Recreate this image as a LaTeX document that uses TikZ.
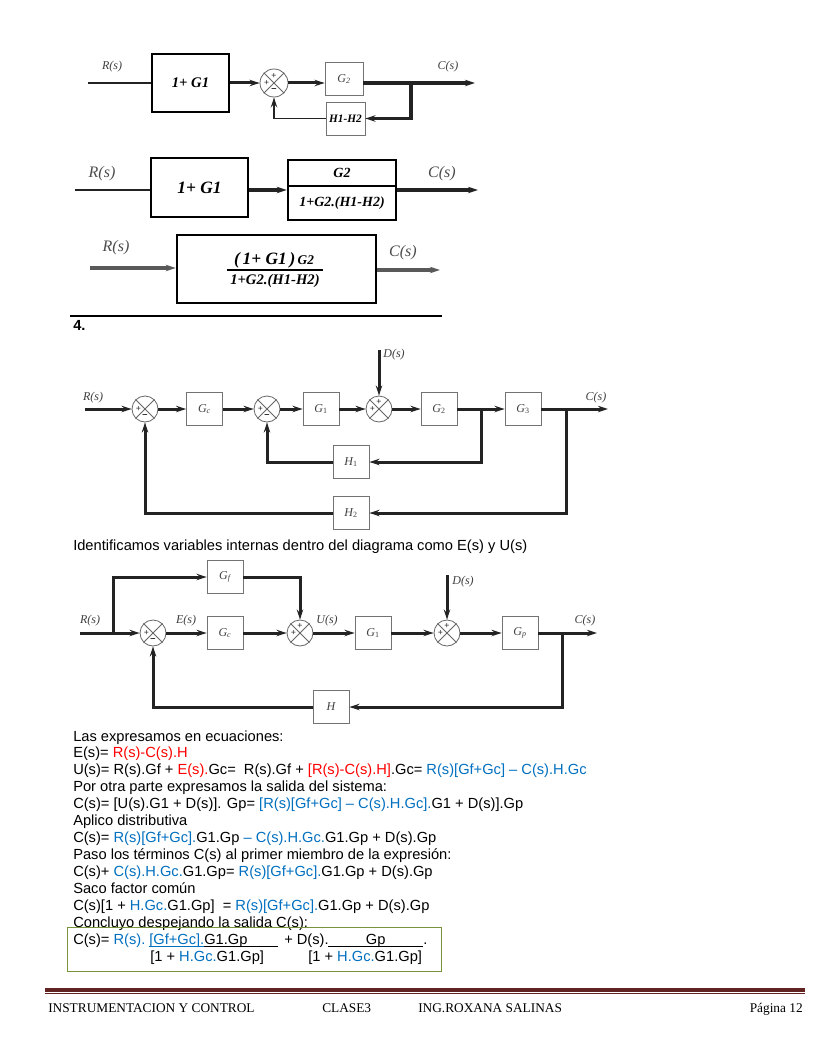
\documentclass[tikz,border=0pt]{standalone}
\usepackage{fontspec}
\usepackage{graphicx}
\setmainfont{Liberation Sans}
\newfontfamily\tms{Liberation Serif}
\newfontfamily\ftr{Liberation Serif}
\usetikzlibrary{arrows.meta}
\definecolor{rd}{RGB}{255,0,0}
\definecolor{bl}{RGB}{0,112,192}
\definecolor{grn}{RGB}{119,147,60}
\definecolor{mar}{RGB}{98,36,35}
\definecolor{ink}{RGB}{35,35,35}
\newcommand\sumX[1]{\draw[black!60,line width=0.6pt] (#1.north east) -- (#1.south west) (#1.north west) -- (#1.south east);}
\tikzset{
 sig/.style={draw=ink, line width=2.25pt},
 thinsig/.style={draw=ink, line width=1.1pt},
 arr/.style={-{Stealth[length=7.5pt,width=4.8pt]}},
 blk/.style={draw=black!55, line width=0.6pt, inner sep=0pt, minimum width=27pt, minimum height=25pt, font=\tms\itshape\fontsize{9}{10}\selectfont, text=black!75},
 sumj/.style={circle, draw=black!60, line width=0.6pt, minimum size=19.5pt, inner sep=0pt},
 lbl/.style={inner sep=0pt, font=\tms\itshape\fontsize{9}{10}\selectfont, text=black!75},
 biglbl/.style={inner sep=0pt, font=\tms\itshape\fontsize{12}{13}\selectfont, text=black!70},
 sgn/.style={inner sep=0pt, font=\fontsize{6.5}{6.5}\selectfont, text=black!85},
 txt/.style={anchor=base west, inner sep=0pt, font=\fontsize{11}{13}\selectfont},
 bigblk/.style={draw=black, line width=1.8pt, inner sep=0pt},
 ftx/.style={anchor=base west, inner sep=0pt, font=\ftr\fontsize{10}{12}\selectfont}
}
\begin{document}
\begin{tikzpicture}[x=0.75pt,y=-0.75pt]
\useasboundingbox (0,0) rectangle (816,1056);
\fill[white] (0,0) rectangle (816,1056);

% ---------------- Diagram 1
\coordinate (r1) at (88,83);
\node[bigblk, line width=1.5pt, minimum width=57.75pt, minimum height=42.75pt, font=\tms\bfseries\itshape\fontsize{11}{12}\selectfont] (a1) at (190.5,83) {1+ G1};
\node[sumj, minimum size=21pt] (s1) at (274,83) {};
\sumX{s1}
\node[blk, minimum width=28.5pt, minimum height=24.75pt] (g12) at (344,79) {G\textsubscript{2}};
\node[blk, minimum width=29.25pt, minimum height=24.75pt, font=\tms\bfseries\itshape\fontsize{8.5}{9}\selectfont, text=black] (h12) at (345.5,118.5) {H1-H2};
\coordinate (c1) at (475,83);
\coordinate (b1) at (411,83);
\draw[thinsig, line width=1.3pt] (r1) -- (a1);
\draw[sig, arr] (a1) -- (s1);
\draw[sig, arr] (s1) -- (s1 -| g12.west);
\draw[sig, line width=2.8pt, arr] (s1 -| g12.east) -- (c1);
\draw[sig, line width=2.8pt, arr] (b1) |- (h12);
\draw[thinsig, arr] (h12) -| (s1);
\node[sgn] (p11) at ([yshift=5.5pt]s1.center) {+};
\node[sgn] (p12) at ([xshift=-5.5pt]s1.center) {+};
\node[sgn, font=\bfseries\fontsize{7}{7}\selectfont] (m11) at ([yshift=-5.5pt]s1.center) {–};
\node[lbl] (lr1) at (112,67) {R(s)};
\node[lbl] (lc1) at (448,67) {C(s)};

% ---------------- Diagram 2
\coordinate (r2) at (75,190);
\node[bigblk, minimum width=72.75pt, minimum height=44.25pt, font=\tms\bfseries\itshape\fontsize{13}{14}\selectfont] (a2) at (199.5,187.5) {1+ G1};
\node[bigblk, minimum width=81pt, minimum height=19.5pt, font=\tms\bfseries\itshape\fontsize{10.5}{11}\selectfont] (n2) at (342,173) {G2};
\node[bigblk, minimum width=81pt, minimum height=25.5pt, font=\tms\bfseries\itshape\fontsize{10.5}{11}\selectfont] (d2) at (342,203) {1+G2.(H1-H2)};
\coordinate (c2) at (478,190);
\draw[thinsig, line width=1.4pt] (r2) -- (a2.west |- r2);
\draw[sig, line width=2.6pt, arr] (a2.east |- r2) -- (d2.west |- r2);
\draw[sig, line width=3pt, arr] (d2.east |- r2) -- (c2);
\node[biglbl] (lr2) at (102,174) {R(s)};
\node[biglbl] (lc2) at (442,174) {C(s)};

% ---------------- Diagram 3
\coordinate (r3) at (90,268);
\node[bigblk, minimum width=149.25pt, minimum height=51pt] (a3) at (276.5,269) {};
\node[inner sep=0pt, font=\tms\bfseries\itshape] (num3) at (274,260) {{\fontsize{13}{14}\selectfont (\,1+ G1\,)}\,{\fontsize{10}{11}\selectfont G2}};
\coordinate (f3a) at (227,270);
\coordinate (f3b) at (323,270);
\draw[line width=1.2pt] (f3a) -- (f3b);
\node[inner sep=0pt, font=\tms\bfseries\itshape\fontsize{11}{12}\selectfont] (den3) at (275,280.5) {1+G2.(H1-H2)};
\coordinate (c3) at (440,270);
\draw[sig, line width=2.4pt, draw=black!65, arr] (r3) -- (a3.west |- r3);
\draw[sig, line width=2.6pt, draw=black!65, arr] (a3.east |- c3) -- (c3);
\node[biglbl] (lr3) at (116,248) {R(s)};
\node[biglbl] (lc3) at (403,253) {C(s)};

\coordinate (sl1) at (70,316);
\coordinate (sl2) at (442,316);
\draw[line width=0.9pt] (sl1) -- (sl2);
\node[txt, font=\bfseries\fontsize{11}{13}\selectfont] (n4) at (73,330) {4.};

% ---------------- Diagram 4
\coordinate (r4) at (85,409);
\coordinate (d4) at (379,350);
\coordinate (b41) at (481,409);
\coordinate (b42) at (566,409);
\coordinate (c4) at (608,409);
\node[sumj] (s41) at (145,409) {};
\node[blk] (gc4) at (204.5,409) {G\textsubscript{c}};
\node[sumj] (s42) at (267,409) {};
\node[blk] (g14) at (321,409) {G\textsubscript{\upshape 1}};
\node[sumj] (s43) at (379,409) {};
\node[blk] (g24) at (439,409) {G\textsubscript{\upshape 2}};
\node[blk] (g34) at (523,409) {G\textsubscript{\upshape 3}};
\node[blk] (h14) at (351,462) {H\textsubscript{\upshape 1}};
\node[blk] (h24) at (351,513) {H\textsubscript{\upshape 2}};
\sumX{s41}\sumX{s42}\sumX{s43}
\draw[sig,arr] (r4) -- (s41);
\draw[sig,arr] (s41) -- (gc4);
\draw[sig,arr] (gc4) -- (s42);
\draw[sig,arr] (s42) -- (g14);
\draw[sig,arr] (g14) -- (s43);
\draw[sig,arr] (d4) -- (s43);
\draw[sig,arr] (s43) -- (g24);
\draw[sig,arr] (g24) -- (g34);
\draw[sig,arr] (b41) |- (h14);
\draw[sig,arr] (h14) -| (s42);
\draw[sig,arr] (g34) -- (c4);
\draw[sig,arr] (b42) |- (h24);
\draw[sig,arr] (h24) -| (s41);
\node[sgn] (p41) at ([xshift=-5pt]s41.center) {+};
\node[sgn, font=\bfseries\fontsize{7}{7}\selectfont] (m41) at ([yshift=-5pt]s41.center) {–};
\node[sgn] (p42) at ([xshift=-5pt]s42.center) {+};
\node[sgn, font=\bfseries\fontsize{7}{7}\selectfont] (m42) at ([yshift=-5pt]s42.center) {–};
\node[sgn] (p43) at ([yshift=5pt]s43.center) {+};
\node[sgn] (p44) at ([xshift=-5pt]s43.center) {+};
\node[lbl] (lr4) at (93,398) {R(s)};
\node[lbl] (ld4) at (394,355) {D(s)};
\node[lbl] (lc4) at (596,398) {C(s)};

\node[txt] (t0) at (73,550) {Identificamos variables internas dentro del diagrama como E(s) y U(s)};

% ---------------- Diagram 5
\coordinate (r5) at (80,633);
\coordinate (b51) at (113,633);
\coordinate (d5) at (447,575);
\coordinate (b52) at (562,633);
\coordinate (c5) at (597,633);
\node[sumj] (s51) at (153,633) {};
\node[blk] (gf5) at (225,577) {G\textsubscript{f}};
\node[blk] (gc5) at (225,633) {G\textsubscript{c}};
\node[sumj] (s52) at (300,633) {};
\node[blk] (g15) at (373,633) {G\textsubscript{\upshape 1}};
\node[sumj] (s53) at (447,633) {};
\node[blk] (gp5) at (520,633) {G\textsubscript{p}};
\node[blk] (h5) at (331,707) {H};
\sumX{s51}\sumX{s52}\sumX{s53}
\draw[sig,arr] (r5) -- (s51);
\draw[sig,arr] (b51) |- (gf5);
\draw[sig,arr] (gf5) -| (s52);
\draw[sig,arr] (s51) -- (gc5);
\draw[sig,arr] (gc5) -- (s52);
\draw[sig,arr] (s52) -- (g15);
\draw[sig,arr] (g15) -- (s53);
\draw[sig,arr] (d5) -- (s53);
\draw[sig,arr] (s53) -- (gp5);
\draw[sig,arr] (gp5) -- (c5);
\draw[sig,arr] (b52) |- (h5);
\draw[sig,arr] (h5) -| (s51);
\node[sgn] (p51) at ([xshift=-5pt]s51.center) {+};
\node[sgn, font=\bfseries\fontsize{7}{7}\selectfont] (m51) at ([yshift=-5pt]s51.center) {–};
\node[sgn] (p52) at ([yshift=5pt]s52.center) {+};
\node[sgn] (p53) at ([xshift=-5pt]s52.center) {+};
\node[sgn] (p54) at ([yshift=5pt]s53.center) {+};
\node[sgn] (p55) at ([xshift=-5pt]s53.center) {+};
\node[lbl] (lr5) at (90,621) {R(s)};
\node[lbl] (le5) at (186,621) {E(s)};
\node[lbl] (lu5) at (327,621) {U(s)};
\node[lbl] (ld5) at (463,582) {D(s)};
\node[lbl] (lc5) at (585,621) {C(s)};

% ---------------- Text
\node[txt] (t1) at (73,741) {Las expresamos en ecuaciones:};
\node[txt] (t2) at (73,757.9) {E(s)= \textcolor{rd}{R(s)-C(s).H}};
\node[txt] (t3) at (73,774.8) {U(s)= R(s).Gf + \textcolor{rd}{E(s).}Gc=~ R(s).Gf + \textcolor{rd}{[R(s)-C(s).H]}.Gc= \textcolor{bl}{R(s)[Gf+Gc] – C(s).H.Gc}};
\node[txt] (t4) at (73,791.8) {Por otra parte expresamos la salida del sistema:};
\node[txt] (t5) at (73,808.7) {C(s)= [U(s).G1 + D(s)]. Gp= \textcolor{bl}{[R(s)[Gf+Gc] – C(s).H.Gc].}G1 + D(s)].Gp};
\node[txt] (t6) at (73,825.6) {Aplico distributiva};
\node[txt] (t7) at (73,842.5) {C(s)= \textcolor{bl}{R(s)[Gf+Gc].}G1.Gp \textcolor{bl}{– C(s).H.Gc.}G1.Gp + D(s).Gp};
\node[txt] (t8) at (73,859.4) {Paso los términos C(s) al primer miembro de la expresión:};
\node[txt] (t9) at (73,876.4) {C(s)+ \textcolor{bl}{C(s).H.Gc.}G1.Gp= \textcolor{bl}{R(s)[Gf+Gc].}G1.Gp + D(s).Gp};
\node[txt] (t10) at (73,893.3) {Saco factor común};
\node[txt] (t11) at (73,910.2) {C(s)[1 + \textcolor{bl}{H.Gc.}G1.Gp]~ = \textcolor{bl}{R(s)[Gf+Gc].}G1.Gp + D(s).Gp};
\node[txt] (t12) at (73,927.1) {Concluyo despejando la salida C(s):};
\node[draw=grn, line width=0.75pt, minimum width=280.5pt, minimum height=33pt, inner sep=0pt] (gbox) at (254,949) {};
\node[txt] (t13a) at (73,944) {C(s)= \textcolor{bl}{R(s).}};
\node[txt] (t13b) at (149,944) {\textcolor{bl}{\underline{\smash{[Gf+Gc].}}}\underline{\smash{\makebox[55.5pt][l]{G1.Gp}}}};
\node[txt] (t13c) at (284,944) {+ D(s).};
\node[txt] (t13d) at (328,944) {\underline{\smash{\makebox[71.25pt][c]{Gp}}}.};
\node[txt] (t14a) at (150,961) {[1 + \textcolor{bl}{H.Gc.}G1.Gp]};
\node[txt] (t14b) at (308,961) {[1 + \textcolor{bl}{H.Gc.}G1.Gp]};

% ---------------- Footer
\coordinate (fl1) at (45,989.5);
\coordinate (fl2) at (805,989.5);
\coordinate (fl3) at (45,993.5);
\coordinate (fl4) at (805,993.5);
\draw[mar, line width=3pt] (fl1) -- (fl2);
\draw[mar, line width=0.75pt] (fl3) -- (fl4);
\node[ftx] (f1) at (48,1012) {INSTRUMENTACION Y CONTROL};
\node[ftx] (f2) at (322,1012) {CLASE3};
\node[ftx] (f3) at (418,1012) {ING.ROXANA SALINAS};
\node[ftx, anchor=base east] (f4) at (803,1012) {Página 12};
\end{tikzpicture}
\end{document}
